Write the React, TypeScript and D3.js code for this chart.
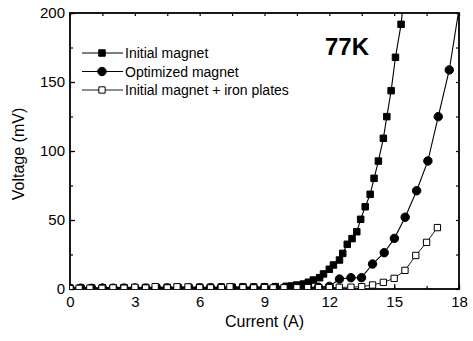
import { useRef, useEffect } from "react";
import * as d3 from "d3";

// ── Data ──────────────────────────────────────────────────────────────────────

const initialCurrent = [
  0, 0.5, 1, 1.5, 2, 2.5, 3, 3.5, 4, 4.5, 5, 5.5, 6, 6.5, 7, 7.5, 8, 8.5, 9, 9.5,
  10, 10.26, 10.49, 10.8, 11.03, 11.26, 11.55, 11.73, 12.0, 12.19, 12.47, 12.62,
  12.83, 13.05, 13.27, 13.45, 13.66, 13.89, 14.07, 14.27, 14.5, 14.66, 14.86,
  15.06, 15.32, 15.45,
];
const initialVoltage = [
  0.6, 0.8, 0.7, 0.9, 0.8, 1.0, 0.9, 1.1, 1.0, 1.2, 1.1, 1.2, 1.3, 1.2, 1.4, 1.3,
  1.5, 1.4, 1.6, 1.7, 1.9, 2.2, 2.9, 3.6, 4.9, 6.5, 8.2, 10.9, 14.3, 17.4, 21,
  25.8, 32.4, 36.5, 41.5, 50.5, 59.6, 68.6, 80.2, 92.7, 109.2, 124.9, 143.7,
  167.9, 191.8, 212,
];

const optimizedCurrent = [
  0, 0.5, 1, 1.5, 2, 2.5, 3, 3.5, 4, 4.5, 5, 5.5, 6, 6.5, 7, 7.5, 8, 8.5, 9, 9.5,
  10, 10.5, 11, 11.5, 12.0, 12.47, 13.0, 13.49, 14.0, 14.54, 15.01, 15.51, 16.04,
  16.56, 17.04, 17.55, 18.0,
];
const optimizedVoltage = [
  0.5, 0.6, 0.5, 0.7, 0.6, 0.6, 0.7, 0.6, 0.8, 0.7, 0.8, 0.7, 0.8, 0.9, 0.8, 0.9,
  1.0, 0.9, 1.0, 1.0, 1.1, 1.1, 1.2, 1.3, 1.9, 7.2, 8.2, 8.2, 18.1, 26.3, 36.7,
  52, 71.2, 92.8, 124.9, 158.7, 203,
];

const ironCurrent = [
  0, 0.42, 0.92, 1.48, 1.99, 2.5, 3.0, 3.5, 3.94, 4.5, 4.95, 5.46, 6.0, 6.5, 7.0,
  7.4, 8.0, 8.5, 9.0, 9.4, 9.9, 10.5, 11.0, 11.5, 12.0, 12.46, 13.0, 13.5, 14.0,
  14.5, 15.0, 15.5, 16.0, 16.5, 17.0,
];
const ironVoltage = [
  0.3, 0.5, 0.6, 0.5, 0.8, 0.6, 1.2, 0.7, 1.7, 0.8, 1.6, 1.5, 0.9, 0.8, 1.0, 1.6,
  0.9, 0.8, 1.0, 0.8, 0.9, 0.9, 1.0, 1.0, 1.0, 1.2, 1.3, 1.7, 2.9, 4.8, 7.7,
  13.5, 24.3, 33.8, 44.5,
];

const seriesNames = ["Initial magnet", "Optimized magnet", "Initial magnet + iron plates"];
const xTicks = [0, 3, 6, 9, 12, 15, 18];
const yTicks = [0, 50, 100, 150, 200];

type Pt = { x: number; y: number };
const zip = (xs: number[], ys: number[]): Pt[] => xs.map((x, i) => ({ x, y: ys[i] }));

// ── Chart ─────────────────────────────────────────────────────────────────────

const W = 473;
const H = 341;
const FONT = "'Liberation Sans', Arial, sans-serif";

function IVChart() {
  const svgRef = useRef<SVGSVGElement>(null);

  useEffect(() => {
    if (!svgRef.current) return;
    const svg = d3.select(svgRef.current);
    svg.selectAll("*").remove();

    const x = d3.scaleLinear().domain([0, 18]).range([70, 459]);
    const y = d3.scaleLinear().domain([0, 200]).range([289, 13]);
    const [x0, x1] = x.range();
    const [y0, y1] = y.range();

    svg.append("defs")
      .append("clipPath")
      .attr("id", "plot-clip")
      .append("rect")
      .attr("x", x0)
      .attr("y", y1)
      .attr("width", x1 - x0)
      .attr("height", y0 - y1);

    const minorX = d3.range(0, 18.01, 1.5);
    const minorY = d3.range(0, 200.01, 25);

    // axes: ticks point inward
    const bottom = svg.append("g").attr("transform", `translate(0,${y0})`);
    bottom.call(d3.axisBottom(x).tickValues(minorX).tickSize(-3).tickFormat(() => ""));
    bottom.call((g) => g.select(".domain").remove());
    const bottomMaj = svg.append("g").attr("transform", `translate(0,${y0})`)
      .call(d3.axisBottom(x).tickValues(xTicks).tickSize(-5).tickPadding(7).tickFormat(d3.format("d")));
    bottomMaj.select(".domain").remove();
    bottomMaj.selectAll("text").attr("font-size", 15).attr("font-family", FONT).attr("fill", "#000");

    const left = svg.append("g").attr("transform", `translate(${x0},0)`);
    left.call(d3.axisLeft(y).tickValues(minorY).tickSize(-3).tickFormat(() => ""));
    left.select(".domain").remove();
    const leftMaj = svg.append("g").attr("transform", `translate(${x0},0)`)
      .call(d3.axisLeft(y).tickValues(yTicks).tickSize(-5).tickPadding(5).tickFormat(d3.format("d")));
    leftMaj.select(".domain").remove();
    leftMaj.selectAll("text").attr("font-size", 15).attr("font-family", FONT).attr("fill", "#000");

    const top = svg.append("g").attr("transform", `translate(0,${y1})`);
    top.call(d3.axisTop(x).tickValues(minorX).tickSize(-3).tickFormat(() => ""));
    top.select(".domain").remove();
    const right = svg.append("g").attr("transform", `translate(${x1},0)`);
    right.call(d3.axisRight(y).tickValues(minorY).tickSize(-3).tickFormat(() => ""));
    right.select(".domain").remove();

    svg.selectAll(".tick line").attr("stroke", "#000").attr("stroke-width", 1.2);

    svg.append("rect")
      .attr("x", x0)
      .attr("y", y1)
      .attr("width", x1 - x0)
      .attr("height", y0 - y1)
      .attr("fill", "none")
      .attr("stroke", "#000")
      .attr("stroke-width", 1.8);

    // axis titles
    svg.append("text")
      .attr("x", (x0 + x1) / 2)
      .attr("y", 327)
      .attr("text-anchor", "middle")
      .attr("font-size", 16)
      .attr("font-family", FONT)
      .text("Current (A)");
    svg.append("text")
      .attr("transform", `translate(24,${(y0 + y1) / 2 + 3}) rotate(-90)`)
      .attr("text-anchor", "middle")
      .attr("font-size", 16)
      .attr("font-family", FONT)
      .text("Voltage (mV)");

    // series
    const line = d3.line<Pt>().x((d) => x(d.x)).y((d) => y(d.y));
    const plot = svg.append("g").attr("clip-path", "url(#plot-clip)");

    const sq = d3.symbol(d3.symbolSquare, 42);
    const sqOpen = d3.symbol(d3.symbolSquare, 40);
    const circ = d3.symbol(d3.symbolCircle, 56);

    const series = [
      { data: zip(initialCurrent, initialVoltage), sym: sq, fill: "#000", lw: 1.1 },
      { data: zip(optimizedCurrent, optimizedVoltage), sym: circ, fill: "#000", lw: 1.1 },
      { data: zip(ironCurrent, ironVoltage), sym: sqOpen, fill: "#fff", lw: 0.9 },
    ];

    series.forEach((s) => {
      plot.append("path")
        .attr("d", line(s.data) ?? "")
        .attr("fill", "none")
        .attr("stroke", "#000")
        .attr("stroke-width", s.lw);
    });
    series.forEach((s) => {
      plot.append("g")
        .selectAll("path")
        .data(s.data.filter((d) => d.y <= 200))
        .enter()
        .append("path")
        .attr("transform", (d) => `translate(${x(d.x)},${y(d.y)})`)
        .attr("d", s.sym() ?? "")
        .attr("fill", s.fill)
        .attr("stroke", "#000")
        .attr("stroke-width", 1);
    });

    // legend
    const lg = svg.append("g");
    series.forEach((s, i) => {
      const ly = 53 + i * 18.5;
      lg.append("line")
        .attr("x1", 82).attr("x2", 123)
        .attr("y1", ly).attr("y2", ly)
        .attr("stroke", "#000").attr("stroke-width", s.lw);
      lg.append("path")
        .attr("transform", `translate(102,${ly})`)
        .attr("d", s.sym() ?? "")
        .attr("fill", s.fill)
        .attr("stroke", "#000")
        .attr("stroke-width", 1);
      lg.append("text")
        .attr("x", 125)
        .attr("y", ly + 5)
        .attr("font-size", 14)
        .attr("font-family", FONT)
        .text(seriesNames[i]);
    });

    svg.append("text")
      .attr("x", 325)
      .attr("y", 55)
      .attr("font-size", 24)
      .attr("font-weight", 700)
      .attr("font-family", FONT)
      .text("77K");
  }, []);

  return <svg ref={svgRef} width={W} height={H} style={{ display: "block", background: "#fff" }} />;
}

export default function App() {
  return (
    <div style={{ position: "fixed", left: 0, top: 0, width: W, height: H, background: "#fff" }}>
      <IVChart />
    </div>
  );
}
